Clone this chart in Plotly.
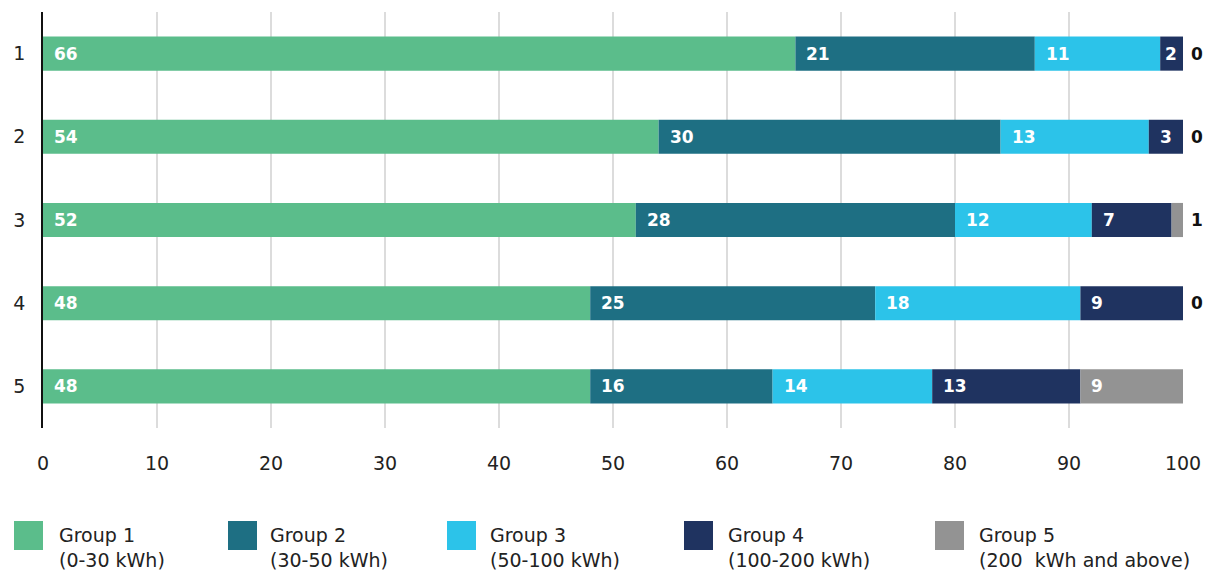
import plotly.graph_objects as go

rows = ["1", "2", "3", "4", "5"]
group_names = [
    "Group 1<br>(0-30 kWh)",
    "Group 2<br>(30-50 kWh)",
    "Group 3<br>(50-100 kWh)",
    "Group 4<br>(100-200 kWh)",
    "Group 5<br>(200  kWh and above)",
]
group1 = [66, 54, 52, 48, 48]
group2 = [21, 30, 28, 25, 16]
group3 = [11, 13, 12, 18, 14]
group4 = [2, 3, 7, 9, 13]
group5 = [0, 0, 1, 0, 9]
x_ticks = [0, 10, 20, 30, 40, 50, 60, 70, 80, 90, 100]

colors = ["#5bbd8b", "#1e6f83", "#2cc3e9", "#1f3360", "#939393"]
font_family = "'DejaVu Sans', sans-serif"
groups = [group1, group2, group3, group4, group5]

fig = go.Figure()
annotations = []
base = [0] * len(rows)
for gi, (vals, color, name) in enumerate(zip(groups, colors, group_names)):
    fig.add_trace(go.Bar(
        y=rows, x=vals, base=base, orientation="h", name=name,
        marker=dict(color=color, line=dict(width=0)),
        width=0.41, showlegend=False, hoverinfo="x+name",
    ))
    for ri, v in enumerate(vals):
        start = base[ri]
        end = start + v
        if gi == 4 and v < 5:
            # small/empty last segment: label sits outside the bar
            annotations.append(dict(
                x=end, y=ri, xref="x", yref="y", text="<b>%d</b>" % v,
                showarrow=False, xanchor="left", xshift=6,
                font=dict(size=17, color="#111111", family=font_family)))
        else:
            annotations.append(dict(
                x=start, y=ri, xref="x", yref="y", text="<b>%d</b>" % v,
                showarrow=False, xanchor="left", xshift=9 if v > 2 else 3,
                font=dict(size=17, color="white", family=font_family)))
    base = [b + v for b, v in zip(base, vals)]

# custom legend (big square swatches, two-line labels)
plot_left, plot_w = 43, 1140
plot_bottom, plot_h = 428, 416
swatch_x = [14, 228, 447, 684, 935]
text_x = [57, 268, 488, 726, 977]
shapes = []
for sx, tx, color, name in zip(swatch_x, text_x, colors, group_names):
    shapes.append(dict(
        type="rect", xref="paper", yref="paper",
        x0=(sx - plot_left) / plot_w, x1=(sx + 29 - plot_left) / plot_w,
        y0=(plot_bottom - 550) / plot_h, y1=(plot_bottom - 521) / plot_h,
        fillcolor=color, line=dict(width=0)))
    annotations.append(dict(
        x=(tx - plot_left) / plot_w, y=(plot_bottom - 522) / plot_h,
        xref="paper", yref="paper", text=name, showarrow=False,
        xanchor="left", yanchor="top", align="left",
        font=dict(size=19, color="#222222", family=font_family)))

fig.update_layout(
    width=1212, height=572,
    margin=dict(l=43, r=29, t=12, b=144),
    paper_bgcolor="white", plot_bgcolor="white",
    barmode="overlay",
    font=dict(family=font_family, size=18, color="#222222"),
    annotations=annotations,
    shapes=shapes,
    xaxis=dict(
        range=[0, 100], tickvals=x_ticks, showgrid=True,
        gridcolor="#dcdcdc", gridwidth=1.5, zeroline=False,
        showline=False, ticks="", ticklabelstandoff=22,
        tickfont=dict(size=19, color="#222222"),
    ),
    yaxis=dict(
        type="category", categoryorder="array", categoryarray=rows,
        autorange="reversed", showgrid=False, zeroline=False,
        showline=True, linecolor="#111111", linewidth=1.5,
        ticks="", ticklabelstandoff=12,
        tickfont=dict(size=19, color="#222222"),
    ),
)

fig.write_html(
    "out.html",
    config={"displayModeBar": False},
    post_script="document.body.style.margin='0';document.body.style.overflow='hidden';",
)
